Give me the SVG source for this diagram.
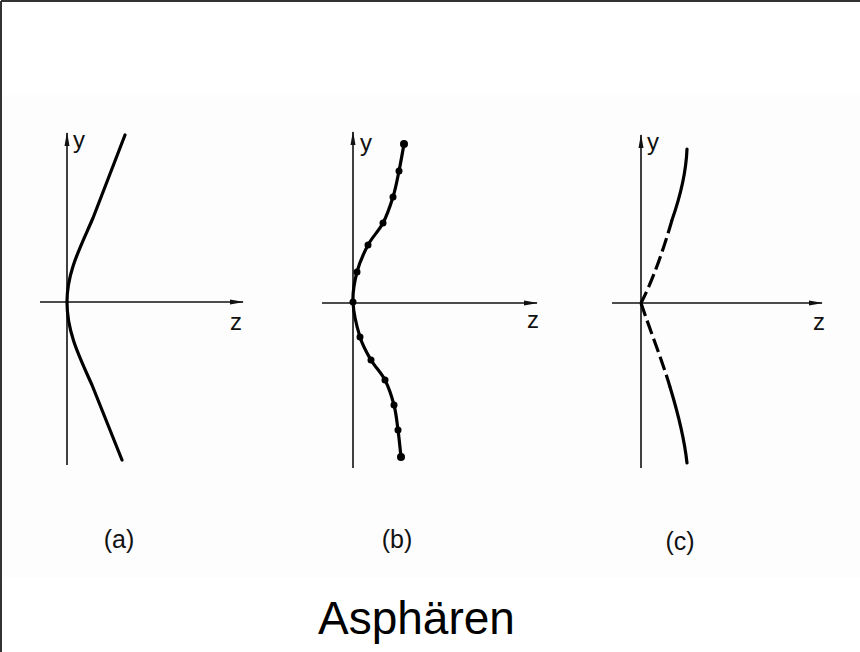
<svg xmlns="http://www.w3.org/2000/svg" width="860" height="652" viewBox="0 0 860 652">
<style>
.axis{stroke:#111;stroke-width:1.6;fill:none}
.curve{stroke:#000;stroke-width:3.2;fill:none;stroke-linecap:round;stroke-linejoin:round}
.dash{stroke-dasharray:14 5;stroke-linecap:butt}
.dot{fill:#000}
.lbl{font-family:"Liberation Sans",Arial,sans-serif;font-size:24px;fill:#111}
.cap{font-family:"Liberation Sans Narrow","Liberation Sans",Arial,sans-serif;font-size:25px;fill:#111;text-anchor:middle}
.title{font-family:"Liberation Sans",Arial,sans-serif;font-size:46px;fill:#000}
</style>
<defs>
<marker id="ah" viewBox="0 0 14 6" refX="13" refY="3" markerWidth="14" markerHeight="6" markerUnits="userSpaceOnUse" orient="auto">
<path d="M0,0.5 L14,3 L0,5.5 Z" fill="#111"/>
</marker>
</defs>
<rect width="860" height="652" fill="#fff"/>
<rect x="2" y="95" width="858" height="483" fill="#fdfdfd"/>
<g id="frame" stroke="#333" stroke-width="2">
<line x1="1" y1="1" x2="860" y2="1"/>
<line x1="1" y1="1" x2="1" y2="652"/>
</g>
<g id="connectors">
<line class="axis" x1="67" y1="465" x2="67" y2="133" marker-end="url(#ah)"/>
<line class="axis" x1="40" y1="302" x2="243" y2="302" marker-end="url(#ah)"/>
<line class="axis" x1="353" y1="468" x2="353" y2="132" marker-end="url(#ah)"/>
<line class="axis" x1="322" y1="303" x2="537" y2="303" marker-end="url(#ah)"/>
<line class="axis" x1="641" y1="468" x2="641" y2="135" marker-end="url(#ah)"/>
<line class="axis" x1="612" y1="303" x2="822" y2="303" marker-end="url(#ah)"/>
</g>
<g id="panel-a">
<path class="curve" d="M125,135 L93,218 C80,248 67,272 67,302 C67,332 79,356 92,385 L122,460"/>
<text class="lbl" x="73" y="148">y</text>
<text class="lbl" x="230" y="330">z</text>
<text class="cap" x="119" y="548">(a)</text>
</g>
<g id="panel-b">
<path class="curve" d="M404,144 C403.2,148.5 400.8,162.2 399,171 C397.2,179.8 395.7,188.3 393,197 C390.3,205.7 387.2,215 383,223 C378.8,231 372.3,236.8 368,245 C363.7,253.2 359.5,262.5 357,272 C354.5,281.5 352.5,291.2 353,302 C353.5,312.8 357,327.3 360,337 C363,346.7 366.8,352.8 371,360 C375.2,367.2 381.2,372.5 385,380 C388.8,387.5 391.8,396.7 394,405 C396.2,413.3 396.8,421.3 398,430 C399.2,438.7 400.5,452.5 401,457"/>
<g class="dot">
<circle cx="404" cy="144" r="4"/>
<circle cx="399" cy="171" r="3.5"/>
<circle cx="393" cy="197" r="3.5"/>
<circle cx="383" cy="223" r="3.5"/>
<circle cx="368" cy="245" r="3.5"/>
<circle cx="357" cy="272" r="3.5"/>
<circle cx="353" cy="302" r="3.5"/>
<circle cx="360" cy="337" r="3.5"/>
<circle cx="371" cy="360" r="3.5"/>
<circle cx="385" cy="380" r="3.5"/>
<circle cx="394" cy="405" r="3.5"/>
<circle cx="398" cy="430" r="3.5"/>
<circle cx="401" cy="457" r="4"/>
</g>
<text class="lbl" x="360" y="151">y</text>
<text class="lbl" x="527" y="328">z</text>
<text class="cap" x="397" y="548">(b)</text>
</g>
<g id="panel-c">
<path class="curve" d="M687,149 C686,175 679,200 672,220"/>
<path class="curve dash" d="M672,220 C664,248 653,280 641,303"/>
<path class="curve dash" d="M641,303 C650,330 662,360 670,387"/>
<path class="curve" d="M670,387 C677,410 684,435 687,463"/>
<text class="lbl" x="647" y="150">y</text>
<text class="lbl" x="813" y="330">z</text>
<text class="cap" x="680" y="550">(c)</text>
</g>
<g id="title">
<text class="title" x="318" y="634">Asphären</text>
</g>
</svg>
